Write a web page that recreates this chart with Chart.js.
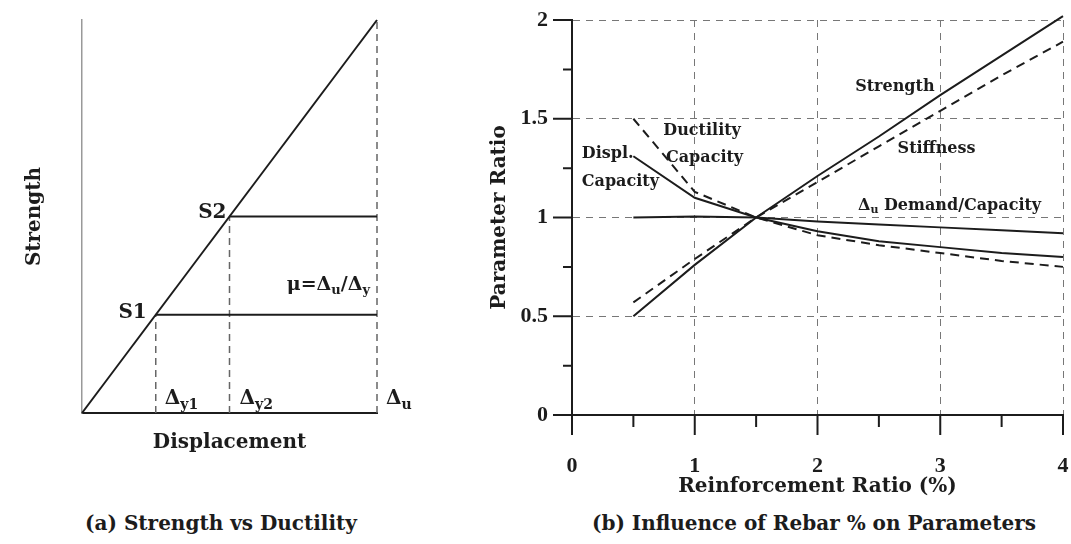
<!DOCTYPE html>
<html>
<head>
<meta charset="utf-8">
<script src="https://cdn.jsdelivr.net/npm/chart.js@4.4.1/dist/chart.umd.min.js"></script>
<style>
  html, body { margin: 0; padding: 0; background: #fff; }
  body { width: 1071px; height: 544px; position: relative; overflow: hidden;
         font-family: "DejaVu Serif", serif; color: #1c1c1c; }
  .box { position: absolute; }
  #leftBox { left: 0; top: 0; width: 440px; height: 470px; }
  #rightBox { left: 440px; top: 0; width: 631px; height: 510px; }
  .caption { position: absolute; top: 511px; font-size: 20px; font-weight: bold; white-space: nowrap; transform: translateX(-50%); }
</style>
</head>
<body>
<div class="box" id="leftBox"><canvas id="ductilityChart"></canvas></div>
<div class="box" id="rightBox"><canvas id="rebarChart"></canvas></div>
<div class="caption" style="left:221px">(a) Strength vs Ductility</div>
<div class="caption" style="left:814px">(b) Influence of Rebar % on Parameters</div>
<script>
// (a) idealised curves, arbitrary units 0-10
const elasticLine = [[0, 0], [10, 10]];
const yieldPoints = [[2.5, 2.5], [5, 5]];   // S1, S2
const ultimateDisp = 10;

// (b) parameter ratios vs reinforcement ratio
const rebarPct = [0.5, 1, 1.5, 2, 2.5, 3, 3.5, 4];
const strength = [0.5, 0.76, 1.0, 1.21, 1.41, 1.62, 1.82, 2.02];
const stiffness = [0.57, 0.79, 1.0, 1.18, 1.36, 1.54, 1.72, 1.89];
const displCapacity = [1.31, 1.1, 1.0, 0.93, 0.88, 0.85, 0.82, 0.80];
const ductilityCapacity = [1.5, 1.13, 1.0, 0.91, 0.86, 0.82, 0.78, 0.75];
const demandCapacity = [1.0, 1.005, 1.0, 0.98, 0.965, 0.95, 0.935, 0.92];

const ink = '#1c1c1c';
const gridGray = '#777';
const wordFont = '"DejaVu Serif", serif';
const numFont = '"Liberation Serif", serif';

const toXY = pts => pts.map(p => ({x: p[0], y: p[1]}));
const pair = ys => rebarPct.map((x, i) => ({x: x, y: ys[i]}));

// draw text with subscripts: parts = [[text, isSub], ...]
function drawSub(ctx, parts, x, y, size) {
    let cx = x;
    parts.forEach(p => {
        ctx.font = 'bold ' + (p[1] ? Math.round(size * 0.7) : size) + 'px ' + wordFont;
        ctx.fillText(p[0], cx, p[1] ? y + size * 0.3 : y);
        cx += ctx.measureText(p[0]).width;
    });
}
function subWidth(ctx, parts, size) {
    let w = 0;
    parts.forEach(p => {
        ctx.font = 'bold ' + (p[1] ? Math.round(size * 0.7) : size) + 'px ' + wordFont;
        w += ctx.measureText(p[0]).width;
    });
    return w;
}

// ---------- (a) Strength vs Ductility ----------
const leftDatasets = [];
const solid = {borderColor: ink, borderWidth: 2, pointRadius: 0, clip: false, tension: 0};
const dashed = {borderColor: '#666', borderWidth: 1.5, borderDash: [7, 5], pointRadius: 0, clip: false};

leftDatasets.push(Object.assign({data: toXY(elasticLine)}, solid));
yieldPoints.forEach(p => {
    leftDatasets.push(Object.assign({data: toXY([p, [ultimateDisp, p[1]]])}, solid));
    leftDatasets.push(Object.assign({data: toXY([[p[0], 0], p])}, dashed));
});
leftDatasets.push(Object.assign({data: toXY([[ultimateDisp, 0], [ultimateDisp, elasticLine[1][1]]])}, dashed));

const leftNotes = {
    id: 'leftNotes',
    afterDatasetsDraw(chart) {
        const {ctx, scales: {x, y}} = chart;
        ctx.save();
        ctx.fillStyle = ink;
        ctx.textBaseline = 'middle';
        ctx.font = 'bold 20px ' + wordFont;
        ctx.textAlign = 'right';
        ctx.fillText('S1', x.getPixelForValue(yieldPoints[0][0]) - 9, y.getPixelForValue(yieldPoints[0][1]) - 2);
        ctx.fillText('S2', x.getPixelForValue(yieldPoints[1][0]) - 3, y.getPixelForValue(yieldPoints[1][1]) - 4);
        ctx.textAlign = 'left';
        const mu = [['μ=Δ', 0], ['u', 1], ['/Δ', 0], ['y', 1]];
        const xr = x.getPixelForValue(ultimateDisp) - 7;
        drawSub(ctx, mu, xr - subWidth(ctx, mu, 19), y.getPixelForValue(3.25), 19);
        const yb = y.getPixelForValue(0) - 14;
        drawSub(ctx, [['Δ', 0], ['y1', 1]], x.getPixelForValue(yieldPoints[0][0]) + 9, yb, 20);
        drawSub(ctx, [['Δ', 0], ['y2', 1]], x.getPixelForValue(yieldPoints[1][0]) + 10, yb, 20);
        drawSub(ctx, [['Δ', 0], ['u', 1]], x.getPixelForValue(ultimateDisp) + 9, yb, 20);
        ctx.restore();
    }
};

new Chart(document.getElementById('ductilityChart').getContext('2d'), {
    type: 'line',
    data: {datasets: leftDatasets},
    plugins: [leftNotes],
    options: {
        responsive: true,
        maintainAspectRatio: false,
        animation: false,
        layout: {padding: {left: 0, right: 63, top: 20, bottom: 0}},
        plugins: {legend: {display: false}, tooltip: {enabled: false}},
        scales: {
            x: {
                type: 'linear', min: 0, max: 10,
                ticks: {display: false},
                grid: {display: false},
                border: {display: true, color: ink, width: 2},
                title: {display: true, text: 'Displacement', color: ink,
                        font: {family: wordFont, size: 20, weight: 'bold'}, padding: {top: 0, bottom: 15}},
                afterFit: s => { s.height = 57; s.paddingLeft = 0; s.paddingRight = 0; }
            },
            y: {
                type: 'linear', min: 0, max: 10,
                ticks: {display: false},
                grid: {display: false},
                border: {display: true, color: '#999', width: 1.5},
                title: {display: true, text: 'Strength', color: ink,
                        font: {family: wordFont, size: 20, weight: 'bold'}, padding: {top: 23, bottom: 0}},
                afterFit: s => { s.width = 82; }
            }
        }
    }
});

// ---------- (b) Influence of Rebar % ----------
const isMultiple = (v, step) => Math.abs(v / step - Math.round(v / step)) < 1e-6;

const axisTicks = {
    id: 'axisTicks',
    afterDraw(chart) {
        const {ctx, scales: {x, y}} = chart;
        const x0 = x.getPixelForValue(0), y0 = y.getPixelForValue(0);
        ctx.save();
        ctx.strokeStyle = ink;
        ctx.lineWidth = 2;
        ctx.beginPath();
        ctx.moveTo(x0 - 19, y0); ctx.lineTo(x0, y0);
        ctx.moveTo(x0, y0); ctx.lineTo(x0, y0 + 20);
        x.ticks.forEach(t => {
            if (t.value === 0) return;
            const px = x.getPixelForValue(t.value);
            ctx.moveTo(px, y0); ctx.lineTo(px, y0 + (isMultiple(t.value, 1) ? 20 : 12));
        });
        y.ticks.forEach(t => {
            if (t.value === 0) return;
            const py = y.getPixelForValue(t.value);
            ctx.moveTo(x0, py); ctx.lineTo(x0 - (isMultiple(t.value, 0.5) ? 19 : 9), py);
        });
        ctx.stroke();
        ctx.restore();
    }
};

const rightNotes = {
    id: 'rightNotes',
    afterDatasetsDraw(chart) {
        const {ctx, scales: {x, y}} = chart;
        const put = (txt, vx, vy, align) => {
            ctx.textAlign = align;
            ctx.fillText(txt, x.getPixelForValue(vx), y.getPixelForValue(vy));
        };
        ctx.save();
        ctx.fillStyle = ink;
        ctx.textBaseline = 'middle';
        ctx.font = 'bold 16px ' + wordFont;
        put('Strength', 2.63, 1.66, 'center');
        put('Stiffness', 2.97, 1.35, 'center');
        put('Ductility', 1.06, 1.44, 'center');
        put('Capacity', 1.08, 1.30, 'center');
        put('Displ.', 0.08, 1.32, 'left');
        put('Capacity', 0.08, 1.18, 'left');
        ctx.textAlign = 'left';
        drawSub(ctx, [['Δ', 0], ['u', 1], [' Demand/Capacity', 0]],
                x.getPixelForValue(2.33), y.getPixelForValue(1.06), 16);
        ctx.restore();
    }
};

const lineStyle = (data, dash) => ({
    data: data,
    borderColor: ink,
    borderWidth: 2,
    borderDash: dash ? [9, 6] : [],
    pointRadius: 0,
    tension: 0,
    clip: false
});

new Chart(document.getElementById('rebarChart').getContext('2d'), {
    type: 'line',
    data: {
        datasets: [
            Object.assign({label: 'Strength'}, lineStyle(pair(strength), false)),
            Object.assign({label: 'Stiffness'}, lineStyle(pair(stiffness), true)),
            Object.assign({label: 'Displ. Capacity'}, lineStyle(pair(displCapacity), false)),
            Object.assign({label: 'Ductility Capacity'}, lineStyle(pair(ductilityCapacity), true)),
            Object.assign({label: 'Δu Demand/Capacity'}, lineStyle(pair(demandCapacity), false))
        ]
    },
    plugins: [rightNotes, axisTicks],
    options: {
        responsive: true,
        maintainAspectRatio: false,
        animation: false,
        layout: {padding: {left: 0, right: 8, top: 20, bottom: 0}},
        plugins: {legend: {display: false}, tooltip: {enabled: false}},
        scales: {
            x: {
                type: 'linear', min: 0, max: 4,
                ticks: {
                    stepSize: 0.5, autoSkip: false, maxRotation: 0, padding: 38, color: ink,
                    font: {family: numFont, size: 22, weight: 'bold'},
                    callback: v => isMultiple(v, 1) ? String(v) : ''
                },
                grid: {
                    drawTicks: false, lineWidth: 1,
                    color: c => (c.tick && isMultiple(c.tick.value, 1)) ? gridGray : 'transparent'
                },
                border: {display: true, color: ink, width: 2, dash: [7, 6]},
                title: {display: true, text: 'Reinforcement Ratio (%)', color: ink,
                        font: {family: wordFont, size: 20, weight: 'bold'}, padding: {top: 0, bottom: 11}},
                afterFit: s => { s.height = 95; s.paddingLeft = 0; s.paddingRight = 0; }
            },
            y: {
                type: 'linear', min: 0, max: 2,
                ticks: {
                    stepSize: 0.25, autoSkip: false, padding: 24, color: ink,
                    font: {family: numFont, size: 22, weight: 'bold'},
                    callback: v => isMultiple(v, 0.5) ? String(v) : ''
                },
                grid: {
                    drawTicks: false, lineWidth: 1,
                    color: c => (c.tick && isMultiple(c.tick.value, 0.5)) ? gridGray : 'transparent'
                },
                border: {display: true, color: ink, width: 2, dash: [7, 6]},
                title: {display: true, text: 'Parameter Ratio', color: ink,
                        font: {family: wordFont, size: 20, weight: 'bold'}, padding: {top: 48, bottom: 0}},
                afterFit: s => { s.width = 132; s.paddingTop = 0; s.paddingBottom = 0; }
            }
        }
    }
});
</script>
</body>
</html>
